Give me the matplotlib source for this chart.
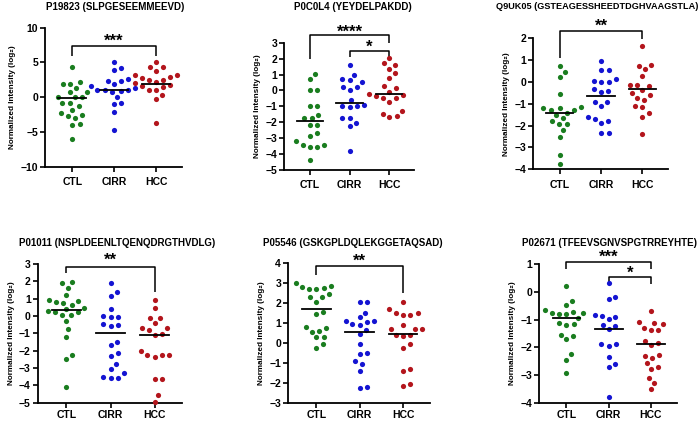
import numpy as np
import matplotlib
matplotlib.use("Agg")
import matplotlib.pyplot as plt

plt.rcParams["font.family"] = ["Liberation Sans", "DejaVu Sans"]

GROUPS = ["CTL", "CIRR", "HCC"]
COLORS = ["#1a7d1f", "#1414d2", "#b3151c"]

TITLES = [
    "P19823 (SLPGESEEMMEEVD)",
    "P0C0L4 (YEYDELPAKDD)",
    "Q9UK05 (GSTEAGESSHEEDTDGHVAAGSTLA)",
    "P01011 (NSPLDEENLTQENQDRGTHVDLG)",
    "P05546 (GSKGPLDQLEKGGETAQSAD)",
    "P02671 (TFEEVSGNVSPGTRREYHTE)",
]

# values per panel: CTL, CIRR, HCC
p19823_ctl = [4.4, 2.2, 1.9, 1.9, 1.3, 0.8, 0.8, 0.1, 0.0, 0.0, -0.8, -0.8, -1.3, -1.8,
              -2.3, -2.6, -2.7, -3.0, -3.9, -4.0, -6.0]
p19823_cirr = [5.0, 4.2, 3.9, 2.6, 2.4, 2.4, 1.9, 1.6, 1.3, 1.1, 1.0, 1.0, 0.9, 0.8, 0.0,
               -0.9, -1.0, -2.1, -4.7]
p19823_hcc = [5.0, 4.4, 4.3, 3.8, 3.2, 3.2, 2.9, 2.7, 2.5, 2.5, 2.2, 2.0, 1.8, 1.6, 1.4,
              1.1, 1.1, 0.3, -0.3, -3.7]

p0c0l4_ctl = [1.05, 0.7, 0.05, 0.05, -1.0, -1.0, -1.55, -1.75, -1.75, -2.2, -2.2, -2.7,
              -2.85, -3.4, -3.4, -3.2, -3.55, -3.55, -4.35]
p0c0l4_cirr = [1.6, 1.0, 0.75, 0.65, 0.5, 0.2, 0.2, 0.05, -0.6, -0.9, -0.95, -1.0, -1.05,
               -1.75, -1.75, -2.05, -2.25, -3.8]
p0c0l4_hcc = [2.05, 1.7, 1.6, 1.35, 1.1, 0.8, 0.25, 0.15, -0.1, -0.25, -0.3, -0.35, -0.45,
              -0.5, -0.7, -1.3, -1.45, -1.7, -1.6]

q9uk05_ctl = [0.73, 0.47, 0.24, -0.56, -1.13, -1.18, -1.2, -1.28, -1.28, -1.4, -1.5, -1.66,
              -1.8, -1.92, -1.94, -2.2, -2.5, -3.35, -3.75]
q9uk05_cirr = [0.98, 0.55, 0.55, 0.12, 0.05, 0.02, 0.02, -0.33, -0.4, -0.45, -0.9, -0.9,
               -1.1, -1.62, -1.7, -1.77, -1.87, -2.32, -2.32]
q9uk05_hcc = [1.65, 0.78, 0.73, 0.58, 0.27, -0.12, -0.12, -0.18, -0.37, -0.5, -0.6, -0.75,
              -0.82, -1.1, -1.15, -1.43, -1.6, -2.38]

p01011_ctl = [1.98, 1.88, 1.63, 1.21, 0.92, 0.88, 0.79, 0.77, 0.63, 0.44, 0.38, 0.31, 0.25,
              0.21, 0.04, 0.04, -0.29, -0.77, -1.19, -2.25, -2.5, -4.08]
p01011_cirr = [1.92, 1.37, 1.17, 0.4, 0.02, -0.04, -0.04, -0.52, -0.48, -0.56, -1.52, -1.67,
               -2.15, -2.29, -2.79, -3.08, -3.31, -3.5, -3.56, -3.6]
p01011_hcc = [0.92, 0.44, -0.1, -0.13, -0.42, -0.71, -0.71, -0.81, -1.04, -1.08, -2.02,
              -2.25, -2.25, -2.35, -2.25, -3.65, -3.62, -4.56, -4.94]

p05546_ctl = [3.03, 2.86, 2.8, 2.75, 2.71, 2.71, 2.46, 2.29, 2.29, 2.08, 1.57, 1.44, 0.79,
              0.74, 0.62, 0.57, 0.32, 0.28, -0.07, -0.23]
p05546_cirr = [2.08, 2.08, 1.52, 1.28, 1.12, 1.12, 1.04, 0.94, 0.9, 0.65, 0.45, -0.05,
               -0.49, -0.55, -0.9, -1.06, -1.41, -2.19, -2.28]
p05546_hcc = [2.08, 1.69, 1.52, 1.52, 1.41, 1.41, 0.9, 0.69, 0.69, 0.69, 0.4, 0.4, 0.37,
              -0.07, -0.23, -1.32, -1.39, -2.06, -2.16]

p02671_ctl = [0.22, -0.31, -0.47, -0.65, -0.71, -0.75, -0.75, -0.78, -0.8, -0.95, -1.13,
              -1.17, -1.19, -1.55, -1.59, -1.71, -2.24, -2.46, -2.94]
p02671_cirr = [0.31, -0.17, -0.27, -0.83, -0.87, -0.89, -0.99, -1.19, -1.22, -1.35, -1.88,
               -1.88, -1.95, -2.34, -2.61, -2.72, -3.78]
p02671_hcc = [-0.69, -1.1, -1.16, -1.13, -1.31, -1.37, -1.37, -1.77, -1.86, -1.92, -2.28,
              -2.3, -2.4, -2.58, -2.7, -2.8, -3.1, -3.28, -3.52]

MEDIANS = [
    [-0.1, 1.1, 1.9],
    [-1.93, -0.78, -0.2],
    [-1.4, -0.64, -0.34],
    [0.35, -0.96, -1.1],
    [1.69, 0.55, 0.45],
    [-0.95, -1.34, -1.88],
]

Y_LIMITS = [(-10, 10), (-5, 3), (-4, 2), (-5, 3), (-3, 4), (-4, 1)]
Y_STEPS = [5, 1, 1, 1, 1, 1]

# brackets: (from group, to group, bar height, left leg end, right leg end, stars, star centre)
BRACKETS = [
    [(0, 2, 7.4, 6.0, 6.0, "***", 8.7)],
    [(0, 2, 3.48, 1.95, 2.95, "****", 4.0), (1, 2, 2.5, 2.08, 2.08, "*", 3.05)],
    [(0, 2, 2.35, 1.08, 1.95, "**", 2.78)],
    [(0, 2, 2.85, 2.46, 1.4, "**", 3.5)],
    [(0, 2, 3.84, 3.42, 2.5, "**", 4.34)],
    [(0, 2, 1.1, 0.82, 0.82, "***", 1.42), (1, 2, 0.53, 0.3, 0.3, "*", 0.86)],
]

PANEL_DATA = [
    [p19823_ctl, p19823_cirr, p19823_hcc],
    [p0c0l4_ctl, p0c0l4_cirr, p0c0l4_hcc],
    [q9uk05_ctl, q9uk05_cirr, q9uk05_hcc],
    [p01011_ctl, p01011_cirr, p01011_hcc],
    [p05546_ctl, p05546_cirr, p05546_hcc],
    [p02671_ctl, p02671_cirr, p02671_hcc],
]

# layout in pixels: axes box (left, right, top, bottom); title anchor, alignment, size
FIG_W, FIG_H = 700, 421
BOXES = [
    (45, 182, 27.7, 166.7),
    (284, 414, 42.7, 170),
    (533, 668, 38.3, 169.3),
    (37.7, 182, 264, 402.7),
    (288, 430, 263.3, 402.7),
    (539, 677, 264.3, 402.7),
]
TITLE_POS = [(115, 7, "center", 7), (353, 6.5, "center", 7), (698, 6.5, "right", 6.6),
             (117, 243, "center", 7), (353, 243, "center", 7), (610, 243, "center", 7)]
XLIM = (-0.65, 2.62)
STAR_SIZE = 12


def swarm(values, x_scale, y_scale, dmin=7.4):
    """Simple beeswarm: offsets (data units) so dots don't overlap."""
    values = np.asarray(values, dtype=float)
    order = np.argsort(values)
    placed = []
    offsets = np.zeros(len(values))
    for idx in order:
        y = values[idx] * y_scale
        cands = [0.0]
        for px, py in placed:
            dy = abs(py - y)
            if dy < dmin:
                dx = np.sqrt(dmin ** 2 - dy ** 2)
                cands += [px + dx, px - dx]
        cands.sort(key=lambda c: (round(abs(c), 6), -c))
        chosen = cands[-1]
        for c in cands:
            if all((c - px) ** 2 + (y - py) ** 2 >= dmin ** 2 - 1e-6 for px, py in placed):
                chosen = c
                break
        placed.append((chosen, y))
        offsets[idx] = chosen / x_scale
    return offsets


fig = plt.figure(figsize=(7, 4.21), dpi=100)

for k in range(6):
    left, right, top, bottom = BOXES[k]
    ax = fig.add_axes([left / FIG_W, 1 - bottom / FIG_H,
                       (right - left) / FIG_W, (bottom - top) / FIG_H])
    ymin, ymax = Y_LIMITS[k]
    x_scale = (right - left) / (XLIM[1] - XLIM[0])
    y_scale = (bottom - top) / (ymax - ymin)

    for g in range(3):
        vals = np.asarray(PANEL_DATA[k][g])
        xs = g + swarm(vals, x_scale, y_scale)
        ax.scatter(xs, vals, s=14, color=COLORS[g], linewidths=0, zorder=3, clip_on=False)
        ax.plot([g - 0.33, g + 0.33], [MEDIANS[k][g]] * 2, color="black", lw=1.3, zorder=4)

    for i, j, bar, yl, yr, label, ly in BRACKETS[k]:
        ax.plot([i, i, j, j], [yl, bar, bar, yr], color="black", lw=1.1,
                clip_on=False, solid_capstyle="butt")
        # asterisk ink sits ~0.57 em above the baseline
        ax.annotate(label, ((i + j) / 2, ly), xytext=(0, -0.57 * STAR_SIZE),
                    textcoords="offset points", ha="center", va="baseline",
                    fontsize=STAR_SIZE, fontweight="bold", annotation_clip=False)

    ax.set_xlim(*XLIM)
    ax.set_ylim(ymin, ymax)
    ax.set_yticks(np.arange(ymin, ymax + 0.01, Y_STEPS[k]))
    ax.set_xticks(range(3))
    ax.set_xticklabels(GROUPS)
    for sp in ["top", "right"]:
        ax.spines[sp].set_visible(False)
    for sp in ["left", "bottom"]:
        ax.spines[sp].set_linewidth(1.3)
    ax.tick_params(axis="both", length=3.5, width=1.2, labelsize=7.5, pad=1.5)
    ax.tick_params(axis="x", pad=4 if k < 3 else 2)
    for lab in ax.get_xticklabels() + ax.get_yticklabels():
        lab.set_fontweight("bold")
    ax.set_ylabel("Normalized Intensity (log\u2082)", fontsize=5.9, fontweight="bold",
                  labelpad=3)

    tx, ty, tha, tsize = TITLE_POS[k]
    fig.text(tx / FIG_W, 1 - ty / FIG_H, TITLES[k], ha=tha, va="center",
             fontsize=tsize, fontweight="bold")

fig.savefig("out.png", dpi=100)
